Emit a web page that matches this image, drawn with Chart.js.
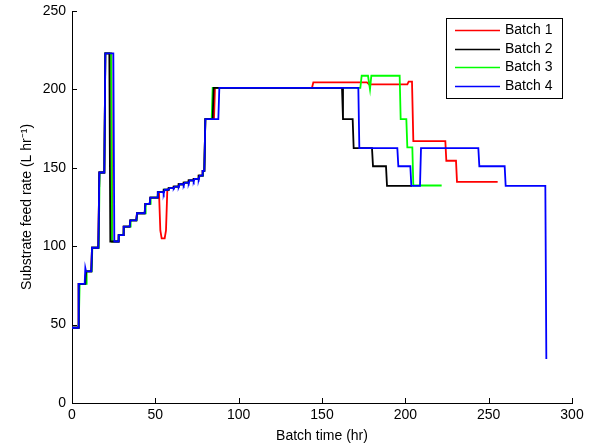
<!DOCTYPE html>
<html>
<head>
<meta charset="utf-8">
<script src="https://cdn.jsdelivr.net/npm/chart.js@4.4.1/dist/chart.umd.min.js"></script>
<style>
  html, body { margin: 0; padding: 0; background: #fff; }
</style>
</head>
<body>
<canvas id="feedChart" width="600" height="448"></canvas>
<script>
// === DATA: [batch time (hr), substrate feed rate (L/hr)] ===
const batch1 = [
  [0,48],[3.6,48],[4,76],[8,76],[8.4,84],[11.6,84],[12,99],[15.8,99],[16.4,147],[19.4,147],[20,223],[23.6,223],[24.2,103],
  [27.6,103],[28,107],[30.6,107],[31,112.5],[34.6,112.5],[35,116.5],[38.6,116.5],[39,121],[43.6,121],[44,127],[46.6,127],
  [47,131],[51,131],[51.5,134.5],[52.2,134.5],[53,110],[53.8,105],[55.6,105],[56.4,110],[57.2,136],[57.6,136],[58,137],
  [60.6,137],[61,138],[63.6,138],[64,139.5],[66.6,139.5],[67,140.5],[69.6,140.5],[70,142],[72.6,142],[73,143],[75.6,143],
  [76,145],[78,145],[78.4,148],[79.4,148],[80,181],[85.2,181],[85.8,201],[144,201],[144.8,204.5],[177,204.5],[178.2,203.2],
  [201.2,203.2],[202,205],[204,205],[204.8,167],[224,167],[224.6,154.5],[230.4,154.5],[231,141],[255.4,141]
];
const batch2 = [
  [0,48],[3.6,48],[4,76],[8,76],[8.4,84],[11.6,84],[12,99],[15.8,99],[16.4,147],[19.4,147],[20,223],[22.4,223],[23,103],
  [27.6,103],[28,107],[30.6,107],[31,112.5],[34.6,112.5],[35,116.5],[38.6,116.5],[39,121],[43.6,121],[44,127],[46.6,127],
  [47,131],[51,131],[51.5,134.5],[54.6,134.5],[55,136],[57.6,136],[58,137],[60.6,137],[61,138],[63.6,138],[64,139.5],
  [66.6,139.5],[67,140.5],[69.6,140.5],[70,142],[72.6,142],[73,143],[75.6,143],[76,145],[78,145],[78.4,148],[79.4,148],
  [80,181],[84.4,181],[85,201],[162,201],[162.6,181],[168.4,181],[169,162.5],[180,162.5],[180.6,151],[188.4,151],
  [189,138.5],[204,138.5]
];
const batch3 = [
  [0,48],[4,48],[4.6,76],[8.4,76],[8.8,84],[11.8,84],[12.2,99],[16,99],[16.6,147],[19.4,147],[20,223],[23.4,223],[24,103],
  [27.8,103],[28.2,107],[30.8,107],[31.2,112.5],[34.8,112.5],[35.2,116.5],[38.8,116.5],[39.2,121],[43.8,121],[44.2,127],
  [46.8,127],[47.2,131],[51.2,131],[51.7,134.5],[54.8,134.5],[55.2,136],[57.8,136],[58.2,137],[60.8,137],[61.2,138],
  [63.8,138],[64.2,139.5],[66.8,139.5],[67.2,140.5],[69.8,140.5],[70.2,142],[72.8,142],[73.2,143],[75.8,143],[76.2,145],
  [78.2,145],[78.6,148],[79.4,148],[80,181],[83.8,181],[84.4,201],[173,201],[173.8,208.7],[177.6,208.7],[178.8,200],
  [179.6,208.7],[196.6,208.7],[197.2,181],[200.6,181],[201.2,163],[204.2,163],[204.8,138.7],[221.8,138.7]
];
const batch4 = [
  [0,48],[3.6,48],[4,76],[7.6,76],[8,86],[8.4,84],[11.6,84],[12,99],[15.8,99],[16.4,147],[19.4,147],[20,223],[24.8,223],
  [25.4,103],[27.6,103],[28,107],[30.6,107],[31,112.5],[34.6,112.5],[35,116.5],[38.6,116.5],[39,121],[43.6,121],[44,127],
  [46.6,127],[47,131],[51,131],[51.5,134.5],[54.6,134.5],[55,133.5],[55.6,136],[57.6,136],[58,136],[58.6,137],[60.6,137],
  [61,136.8],[61.6,138],[63.6,138],[64,137.8],[64.6,139.5],[66.6,139.5],[67,138.8],[67.6,140.5],[69.6,140.5],[70,140],
  [70.6,142],[72.6,142],[73,141.2],[73.6,143],[75.6,143],[76,142.5],[76.6,145],[78,145],[78.4,148],[79.4,148],[80,181],
  [87.8,181],[88.4,201],[171.8,201],[172.4,162.5],[195.2,162.5],[195.8,151],[203,151],[203.6,138.5],[208.8,138.5],
  [209.4,162.5],[243.8,162.5],[244.4,151],[259.6,151],[260.2,138.5],[284,138.5],[284.6,28]
];

const batchLabels = ['Batch 1', 'Batch 2', 'Batch 3', 'Batch 4'];
const batchColors = ['#ff0000', '#000000', '#00ff00', '#0000ff'];
const batchSeries = [batch1, batch2, batch3, batch4];
const drawOrder = [4, 2, 3, 1]; // blue on top, red underneath

const FONT = '"Liberation Sans", Arial, sans-serif';

// === INWARD TICK MARKS (matlab style) ===
const inwardTicks = {
  id: 'inwardTicks',
  afterDraw(chart) {
    const { ctx, chartArea, scales } = chart;
    ctx.save();
    ctx.strokeStyle = '#000';
    ctx.lineWidth = 1;
    ctx.beginPath();
    scales.x.ticks.forEach(t => {
      const px = Math.round(scales.x.getPixelForValue(t.value)) + 0.5;
      ctx.moveTo(px, chartArea.bottom);
      ctx.lineTo(px, chartArea.bottom - 5);
    });
    scales.y.ticks.forEach(t => {
      const py = Math.round(scales.y.getPixelForValue(t.value)) + 0.5;
      ctx.moveTo(chartArea.left, py);
      ctx.lineTo(chartArea.left + 5, py);
    });
    ctx.stroke();
    ctx.restore();
  }
};

// === LEGEND BOX INSIDE THE PLOT ===
const boxLegend = {
  id: 'boxLegend',
  afterDraw(chart) {
    const { ctx, chartArea } = chart;
    const w = 116, h = 80, rowH = 18.7;
    const left = chartArea.right - 10 - w;
    const top = chartArea.top + 7;
    ctx.save();
    ctx.fillStyle = '#fff';
    ctx.fillRect(left, top, w, h);
    ctx.strokeStyle = '#000';
    ctx.lineWidth = 1;
    ctx.strokeRect(left + 0.5, top + 0.5, w, h);
    ctx.font = '14px ' + FONT;
    ctx.textBaseline = 'middle';
    chart.data.datasets.forEach((ds, i) => {
      const y = Math.round(top + 12 + i * rowH) + 0.5;
      ctx.strokeStyle = ds.borderColor;
      ctx.lineWidth = 1.5;
      ctx.beginPath();
      ctx.moveTo(left + 9, y);
      ctx.lineTo(left + 54, y);
      ctx.stroke();
      ctx.fillStyle = '#000';
      ctx.fillText(ds.label, left + 59, y);
    });
    ctx.restore();
  }
};

const datasets = batchSeries.map((series, i) => ({
  label: batchLabels[i],
  data: series.map(p => ({ x: p[0], y: p[1] })),
  borderColor: batchColors[i],
  backgroundColor: batchColors[i],
  borderWidth: 1.8,
  pointRadius: 0,
  tension: 0,
  fill: false,
  order: drawOrder[i]
}));

const ctx = document.getElementById('feedChart').getContext('2d');
new Chart(ctx, {
  type: 'line',
  data: { datasets },
  options: {
    responsive: false,
    animation: false,
    layout: { padding: { top: 11, right: 28, left: 0, bottom: 0 } },
    plugins: { legend: { display: false }, tooltip: { enabled: false } },
    scales: {
      x: {
        type: 'linear',
        min: 0, max: 300,
        afterFit: s => { s.height = 45; s.paddingLeft = 0; s.paddingRight = 0; },
        grid: { drawOnChartArea: false, drawTicks: false },
        border: { color: '#000', width: 1 },
        ticks: { stepSize: 50, color: '#000', padding: 4, font: { family: FONT, size: 14 }, maxRotation: 0 },
        title: { display: true, text: 'Batch time (hr)', color: '#000', font: { family: FONT, size: 14 }, padding: { top: 0, bottom: 3 } }
      },
      y: {
        type: 'linear',
        min: 0, max: 250,
        afterFit: s => { s.width = 72; s.paddingTop = 0; s.paddingBottom = 0; },
        grid: { drawOnChartArea: false, drawTicks: false },
        border: { color: '#000', width: 1 },
        ticks: { stepSize: 50, color: '#000', padding: 6, font: { family: FONT, size: 14 } },
        title: { display: true, text: 'Substrate feed rate (L hr\u207B\u00B9)', color: '#000', font: { family: FONT, size: 14 }, padding: { top: 19, bottom: 0 } }
      }
    }
  },
  plugins: [inwardTicks, boxLegend]
});
</script>
</body>
</html>
